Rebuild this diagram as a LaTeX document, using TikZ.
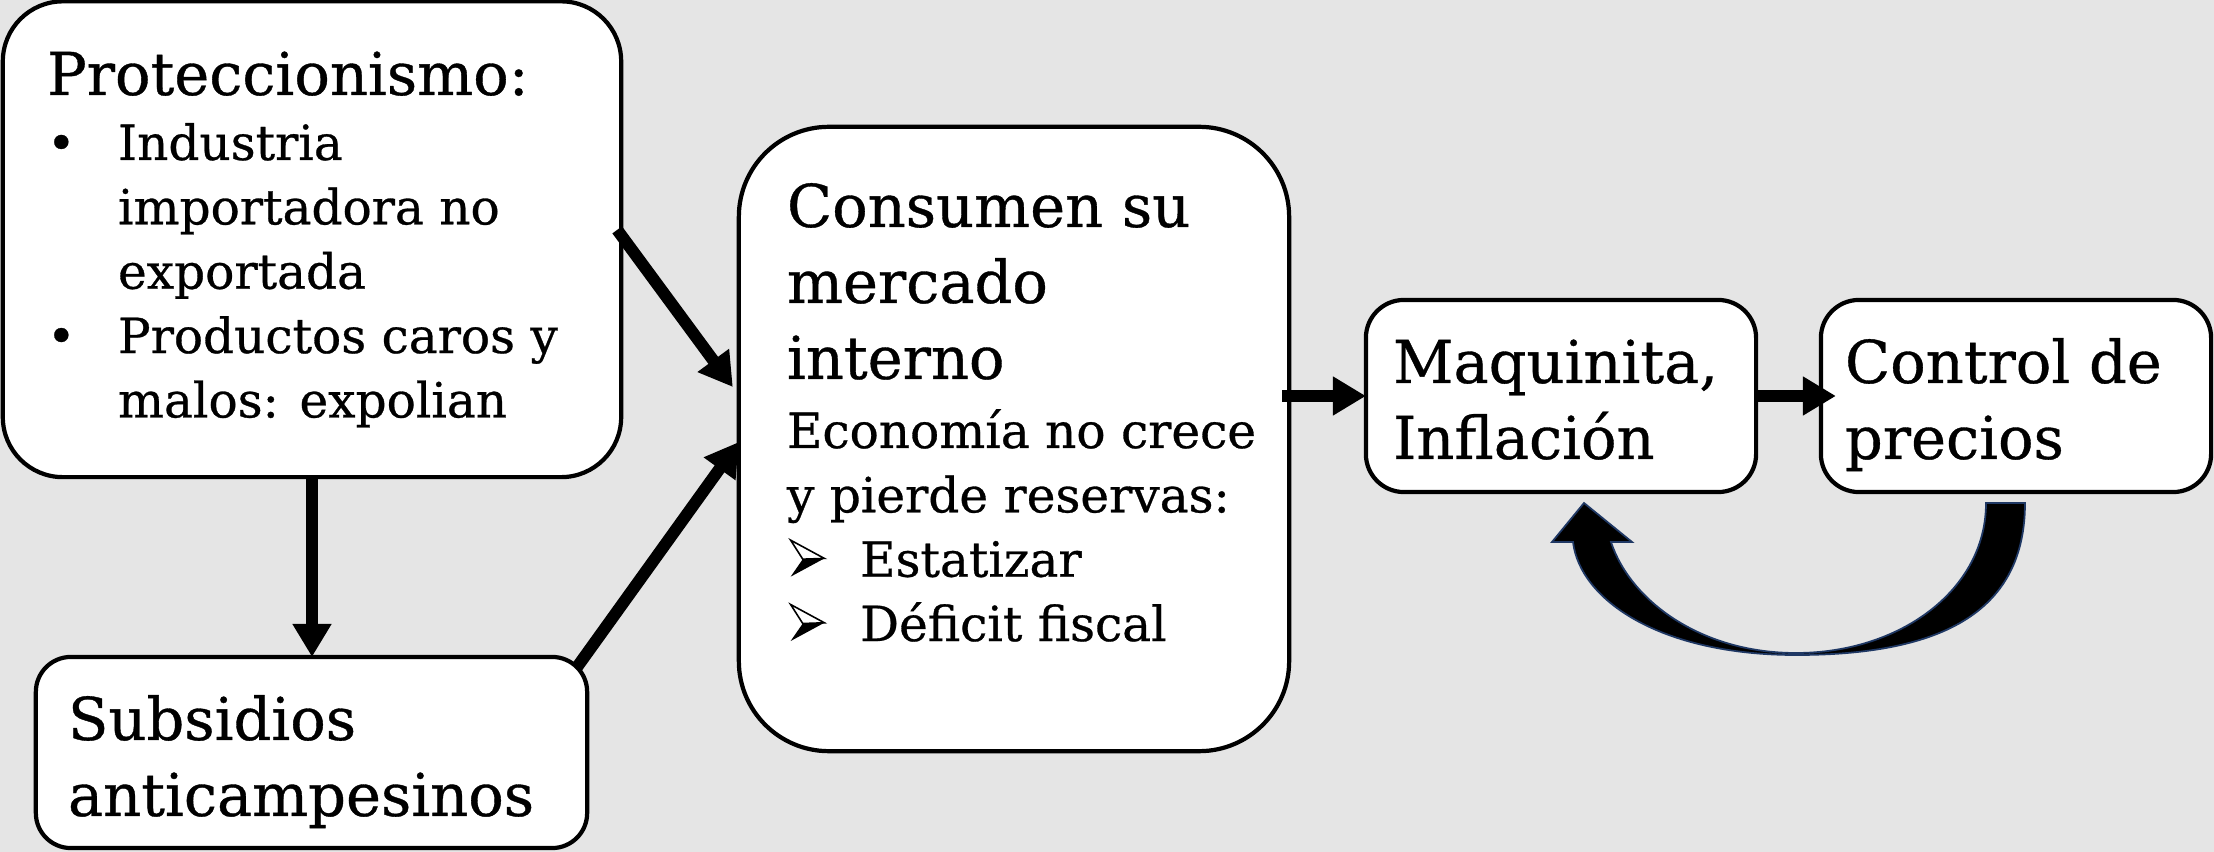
\documentclass[tikz,border=0pt]{standalone}
\usepackage{fontspec}
\setmainfont{DejaVu Serif}[FakeBold=0.6]
\usetikzlibrary{arrows.meta,calc}
\definecolor{bg}{RGB}{229,229,229}
\definecolor{navyline}{RGB}{31,56,100}
\newcommand\bigtext{\fontsize{16.8pt}{21.6pt}\selectfont}
\newcommand\smalltext{\fontsize{13.8pt}{18.3pt}\selectfont}
\newcommand\dotbul{\makebox[20.2pt][l]{\textbullet}}
\newcommand\arrbul{\makebox[20.8pt][l]{\hspace{0.8pt}\tikz[baseline=0pt,x=9.6pt,y=10.4pt,line width=0.45pt,line join=miter]{%
  \filldraw[fill=white,draw=black] (0,1) -- (1,0.5) -- (0.36,0.48) -- cycle;
  \fill[black] (0,0) -- (1,0.5) -- (0.36,0.48) -- cycle;}}}
\tikzset{
  box/.style={draw=black, line width=1.2pt, fill=white, rectangle, inner sep=0pt, outer sep=0pt},
  lbl/.style={inner sep=0pt, outer sep=0pt, anchor=base west},
  arr/.style={line width=3.4pt, -{Triangle[length=9.4pt,width=10.5pt]}},
}
\begin{document}
\begin{tikzpicture}[x=0.01cm,y=-0.01cm]
\path[use as bounding box, fill=bg] (0,0) rectangle (2214,852);

% boxes
\node[box, rounded corners=0.6cm, minimum width=6.18cm, minimum height=4.755cm] (P) at (312,239.25) {};
\node[box, rounded corners=0.35cm, minimum width=5.51cm, minimum height=1.91cm] (S) at (311.5,752.5) {};
\node[box, rounded corners=0.9cm, minimum width=5.50cm, minimum height=6.24cm] (C) at (1014,439) {};
\node[box, rounded corners=0.38cm, minimum width=3.90cm, minimum height=1.92cm] (M) at (1561,396) {};
\node[box, rounded corners=0.38cm, minimum width=3.90cm, minimum height=1.92cm] (K) at (2016,396) {};

% texts
\node[lbl, font=\bigtext] (Pt) at (47,95) {Proteccionismo:};
\node[lbl, font=\smalltext] (Pb) at (47,160) {\begin{tabular}[t]{@{}l@{}}
\dotbul Industria\\
\hspace*{20.2pt}importadora no\\
\hspace*{20.2pt}exportada\\
\dotbul Productos caros y\\
\hspace*{20.2pt}malos: expolian
\end{tabular}};
\node[lbl, font=\bigtext] (St) at (68,740) {\begin{tabular}[t]{@{}l@{}}
Subsidios\\ anticampesinos
\end{tabular}};
\node[lbl, font=\bigtext] (Ct) at (787,227) {\begin{tabular}[t]{@{}l@{}}
Consumen su\\ mercado\\ interno
\end{tabular}};
\node[lbl, font=\smalltext] (Cb) at (787,448) {\begin{tabular}[t]{@{}l@{}}
Economía no crece\\
y pierde reservas:\\
\arrbul Estatizar\\
\arrbul Déficit fiscal
\end{tabular}};
\node[lbl, font=\bigtext] (Mt) at (1393,383) {\begin{tabular}[t]{@{}l@{}}
Maquinita,\\ Inflación
\end{tabular}};
\node[lbl, font=\bigtext] (Kt) at (1845,383) {\begin{tabular}[t]{@{}l@{}}
Control de\\ precios
\end{tabular}};

% connectors
\draw[arr] (P.south) -- (P.south |- S.north);
\draw[arr] ($(P.north east)+(-4,228.5)$) -- ($(C.west)+(-6,-52)$);
\draw[arr] ($(S.north east)+(-10,10)$) -- ($(C.west)+(0,3)$);
\draw[arr] ($(C.east |- M.west)+(-7,0)$) -- (M.west);
\draw[arr] (M.east) -- ($(K.west)+(15,0)$);

% curved block arrow from K back to M
\filldraw[fill=black, draw=navyline, line width=0.5pt, line join=miter]
  (2025,503) .. controls (2025,610) and (1945,655) .. (1796,655)
  .. controls (1660,655) and (1580,600) .. (1573,542)
  -- (1552,542) -- (1584,503) -- (1632,542) -- (1611,542)
  .. controls (1630,600) and (1700,653) .. (1796,653)
  .. controls (1900,653) and (1986,590) .. (1986,503) -- cycle;
\end{tikzpicture}
\end{document}
